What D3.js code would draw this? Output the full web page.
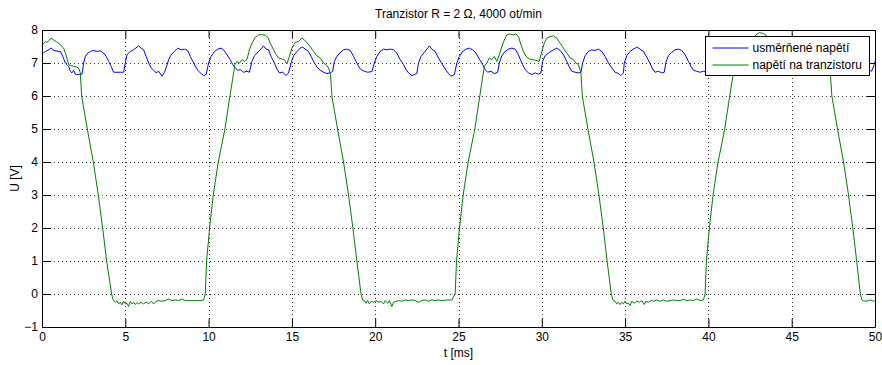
<!DOCTYPE html>
<html>
<head>
<meta charset="utf-8">
<title>Tranzistor R = 2 Ω, 4000 ot/min</title>
<style>
body {
  margin: 0;
  background: #fff;
  font: 12px "Liberation Sans", Arial, sans-serif;
}

svg {
  display: block;
}

.axis text {
  fill: #000;
  font: 12px "Liberation Sans", Arial, sans-serif;
}

.grid line {
  stroke: #000;
  stroke-width: 1px;
  stroke-dasharray: 1,3;
  opacity: 0.8;
}

.series {
  fill: none;
  stroke-width: 1px;
}
</style>
<script src="https://d3js.org/d3.v7.min.js"></script>
</head>
<body>
<script>
const width = 882,
  height = 365,
  margin = {top: 30, right: 7, bottom: 38, left: 42};

const chartTitle = 'Tranzistor R = 2 \u03a9, 4000 ot/min',
  xLabel = 't [ms]',
  yLabel = 'U [V]',
  seriesNames = ['usm\u011br\u0148en\u00e9 nap\u011bt\u00ed', 'nap\u011bt\u00ed na tranzistoru'],
  seriesColors = ['#0000ff', '#008000'];

const xTicks = [0, 5, 10, 15, 20, 25, 30, 35, 40, 45, 50];
const yTicks = [-1, 0, 1, 2, 3, 4, 5, 6, 7, 8];

// usmernene napeti [t ms, U V]
const blueData = [
  [0.0, 7.26], [0.2, 7.35], [0.4, 7.4], [0.55, 7.45], [0.7, 7.38], [0.9, 7.36], [1.1, 7.35], [1.25, 7.2],
  [1.4, 7.0], [1.5, 6.95], [1.6, 6.9], [1.7, 6.75], [1.8, 6.7], [1.9, 6.78], [2.0, 6.66], [2.2, 6.65], [2.4, 6.66],
  [2.5, 7.0], [2.6, 7.2], [2.75, 7.3], [2.9, 7.35], [3.1, 7.38], [3.3, 7.35], [3.5, 7.37], [3.7, 7.3], [3.85, 7.2],
  [4.0, 7.05], [4.15, 6.9], [4.3, 6.72], [4.5, 6.72], [4.7, 6.72], [4.9, 6.72],
  [5.0, 7.0], [5.1, 7.25], [5.3, 7.35], [5.5, 7.4], [5.8, 7.52], [5.95, 7.45], [6.1, 7.4], [6.25, 7.2], [6.4, 7.0],
  [6.55, 6.85], [6.7, 6.78], [6.85, 6.7], [7.0, 6.75], [7.2, 6.6], [7.35, 6.72], [7.45, 6.85],
  [7.6, 7.1], [7.75, 7.25], [7.95, 7.35], [8.15, 7.45], [8.35, 7.4], [8.55, 7.42], [8.75, 7.38], [8.9, 7.2],
  [9.05, 7.05], [9.2, 6.9], [9.35, 6.78], [9.5, 6.7], [9.7, 6.62], [9.85, 6.65],
  [10.0, 7.0], [10.15, 7.2], [10.35, 7.35], [10.55, 7.42], [10.75, 7.45], [10.9, 7.4], [11.1, 7.25], [11.3, 7.1],
  [11.45, 6.95], [11.6, 6.85], [11.75, 6.78], [11.9, 6.8], [12.1, 6.72], [12.3, 6.75], [12.45, 6.72],
  [12.6, 7.05], [12.75, 7.22], [13.0, 7.35], [13.2, 7.45], [13.3, 7.52], [13.45, 7.42], [13.6, 7.4], [13.75, 7.2],
  [13.95, 7.0], [14.1, 6.82], [14.25, 6.7], [14.45, 6.72], [14.65, 6.62], [14.8, 6.7],
  [14.95, 7.0], [15.1, 7.22], [15.3, 7.35], [15.5, 7.45], [15.65, 7.48], [15.8, 7.42], [16.0, 7.35], [16.15, 7.2],
  [16.35, 7.0], [16.5, 6.88], [16.7, 6.78], [16.9, 6.72], [17.1, 6.68], [17.3, 6.7], [17.45, 6.75],
  [17.55, 7.05], [17.7, 7.2], [17.9, 7.32], [18.1, 7.4], [18.3, 7.42], [18.5, 7.38], [18.7, 7.2], [18.85, 7.05],
  [19.0, 6.9], [19.15, 6.8], [19.35, 6.75], [19.55, 6.72], [19.8, 6.74],
  [19.95, 7.0], [20.1, 7.2], [20.3, 7.35], [20.5, 7.42], [20.7, 7.4], [20.9, 7.42], [21.1, 7.4], [21.3, 7.3],
  [21.5, 7.1], [21.7, 6.95], [21.85, 6.8], [22.0, 6.7], [22.2, 6.62], [22.35, 6.65], [22.5, 6.68],
  [22.6, 7.0], [22.75, 7.2], [22.95, 7.32], [23.15, 7.45], [23.25, 7.52], [23.4, 7.42], [23.6, 7.35], [23.8, 7.15],
  [24.0, 6.98], [24.2, 6.82], [24.4, 6.68], [24.55, 6.6], [24.75, 6.65],
  [24.9, 7.0], [25.05, 7.2], [25.25, 7.35], [25.45, 7.42], [25.65, 7.45], [25.85, 7.4], [26.05, 7.3], [26.25, 7.12],
  [26.45, 6.95], [26.6, 6.8], [26.75, 6.72], [26.95, 6.75], [27.15, 6.68], [27.35, 6.72],
  [27.45, 7.0], [27.6, 7.22], [27.8, 7.35], [28.0, 7.42], [28.2, 7.45], [28.4, 7.42], [28.55, 7.3], [28.7, 7.12],
  [28.85, 6.95], [29.0, 6.8], [29.2, 6.7], [29.4, 6.65], [29.6, 6.7], [29.8, 6.66], [29.95, 6.7],
  [30.05, 7.05], [30.2, 7.22], [30.45, 7.32], [30.7, 7.4], [30.9, 7.45], [31.1, 7.38], [31.3, 7.25], [31.5, 7.05],
  [31.65, 6.88], [31.8, 6.75], [32.0, 6.72], [32.2, 6.7], [32.35, 6.72],
  [32.45, 7.0], [32.6, 7.22], [32.8, 7.35], [33.0, 7.4], [33.2, 7.38], [33.4, 7.42], [33.6, 7.35], [33.8, 7.2],
  [34.0, 7.0], [34.2, 6.85], [34.4, 6.72], [34.6, 6.68], [34.75, 6.62], [34.9, 6.7],
  [34.95, 7.0], [35.1, 7.22], [35.3, 7.35], [35.5, 7.42], [35.7, 7.48], [35.9, 7.42], [36.1, 7.35], [36.3, 7.18],
  [36.5, 6.98], [36.65, 6.82], [36.8, 6.72], [37.0, 6.75], [37.2, 6.7], [37.35, 6.72],
  [37.45, 7.02], [37.6, 7.22], [37.8, 7.32], [38.0, 7.4], [38.2, 7.42], [38.4, 7.38], [38.6, 7.25], [38.8, 7.05],
  [38.95, 6.9], [39.1, 6.78], [39.3, 6.75], [39.5, 6.72], [39.7, 6.75], [39.9, 6.72],
  [40.0, 7.0], [40.15, 7.2], [40.35, 7.35], [40.55, 7.42], [40.75, 7.45], [40.95, 7.4], [41.15, 7.28], [41.35, 7.08],
  [41.5, 6.9], [41.7, 6.78], [41.9, 6.72], [42.1, 6.7], [42.3, 6.68],
  [42.5, 7.02], [42.65, 7.22], [42.85, 7.35], [43.05, 7.42], [43.25, 7.45], [43.45, 7.4], [43.65, 7.3], [43.85, 7.1],
  [44.0, 6.92], [44.2, 6.78], [44.4, 6.7], [44.6, 6.68], [44.85, 6.7],
  [45.0, 7.0], [45.15, 7.2], [45.35, 7.35], [45.55, 7.42], [45.75, 7.45], [45.95, 7.4], [46.15, 7.3], [46.35, 7.1],
  [46.5, 6.92], [46.7, 6.78], [46.9, 6.72], [47.1, 6.7], [47.35, 6.68],
  [47.5, 7.02], [47.65, 7.2], [47.85, 7.35], [48.05, 7.42], [48.25, 7.45], [48.45, 7.4], [48.65, 7.28], [48.85, 7.08],
  [49.0, 6.9], [49.2, 6.8], [49.4, 6.78], [49.6, 6.8], [49.8, 6.75], [49.95, 6.95], [50.0, 7.05]
];

// napeti na tranzistoru [t ms, U V]
const greenData = [
  [0.0, 7.52], [0.1, 7.6], [0.2, 7.65], [0.3, 7.62], [0.4, 7.68], [0.55, 7.75], [0.7, 7.7], [0.85, 7.65],
  [1.0, 7.6], [1.15, 7.52], [1.3, 7.45], [1.4, 7.3], [1.5, 7.15], [1.6, 6.95], [1.75, 6.92], [1.9, 6.9],
  [2.05, 6.88], [2.2, 6.85], [2.3, 6.7],
  [2.38, 6.0], [2.72, 5.0], [3.08, 4.0], [3.38, 3.0], [3.64, 2.0], [3.88, 1.0], [4.18, 0.0], [4.27, -0.18],
  [4.4, -0.25], [4.5, -0.2], [4.6, -0.3], [4.7, -0.25], [4.8, -0.33], [4.9, -0.22], [5.0, -0.3], [5.1, -0.28],
  [5.2, -0.38], [5.3, -0.22], [5.4, -0.3], [5.5, -0.25], [5.6, -0.32], [5.7, -0.26], [5.8, -0.3], [5.95, -0.25],
  [6.1, -0.3], [6.25, -0.24], [6.4, -0.3], [6.55, -0.22], [6.7, -0.3], [6.85, -0.22], [7.0, -0.2], [7.2, -0.22],
  [7.4, -0.2], [7.6, -0.15], [7.8, -0.2], [8.0, -0.18], [8.2, -0.2], [8.4, -0.15], [8.6, -0.2], [8.9, -0.2],
  [9.2, -0.2], [9.5, -0.2], [9.7, -0.18],
  [9.8, 0.0], [9.88, 1.0], [10.06, 2.0], [10.28, 3.0], [10.58, 4.0], [10.98, 5.0], [11.28, 6.0], [11.58, 6.95],
  [11.7, 7.05], [11.85, 7.0], [12.0, 7.1], [12.15, 7.05], [12.3, 7.1], [12.45, 7.4], [12.6, 7.6], [12.8, 7.78],
  [13.0, 7.85], [13.2, 7.86], [13.4, 7.84], [13.55, 7.78], [13.7, 7.6], [13.85, 7.45], [14.0, 7.3], [14.2, 7.15],
  [14.4, 7.12], [14.55, 7.1], [14.7, 6.97], [14.85, 7.2], [15.0, 7.45], [15.2, 7.62], [15.4, 7.65], [15.6, 7.76],
  [15.75, 7.7], [15.9, 7.62], [16.1, 7.5], [16.3, 7.35], [16.5, 7.22], [16.7, 7.15], [16.9, 7.0], [17.05, 6.95],
  [17.2, 6.85], [17.32, 6.65],
  [17.4, 6.0], [17.74, 5.0], [18.1, 4.0], [18.4, 3.0], [18.66, 2.0], [18.9, 1.0], [19.15, 0.0], [19.25, -0.18],
  [19.35, -0.2], [19.45, -0.28], [19.55, -0.2], [19.65, -0.3], [19.75, -0.22], [19.9, -0.25], [20.05, -0.2],
  [20.2, -0.25], [20.35, -0.22], [20.5, -0.3], [20.6, -0.2], [20.75, -0.28], [20.85, -0.2], [21.0, -0.38],
  [21.1, -0.25], [21.25, -0.22], [21.4, -0.2], [21.6, -0.22], [21.8, -0.18], [22.0, -0.2], [22.2, -0.18],
  [22.4, -0.2], [22.6, -0.25], [22.8, -0.2], [23.0, -0.18], [23.2, -0.22], [23.4, -0.18], [23.6, -0.2],
  [23.8, -0.18], [24.0, -0.2], [24.3, -0.18], [24.6, -0.18],
  [24.8, 0.0], [24.88, 1.0], [25.06, 2.0], [25.28, 3.0], [25.58, 4.0], [25.98, 5.0], [26.28, 6.0], [26.55, 6.9],
  [26.7, 7.0], [26.85, 7.15], [27.0, 7.1], [27.15, 7.2], [27.3, 7.05], [27.45, 7.25], [27.6, 7.5], [27.75, 7.7],
  [27.9, 7.85], [28.1, 7.88], [28.3, 7.85], [28.45, 7.88], [28.6, 7.8], [28.75, 7.55], [28.9, 7.35], [29.05, 7.2],
  [29.25, 7.12], [29.45, 7.1], [29.65, 7.08], [29.85, 7.05], [30.0, 7.35], [30.15, 7.6], [30.3, 7.75], [30.5, 7.8],
  [30.7, 7.82], [30.9, 7.75], [31.1, 7.6], [31.3, 7.45], [31.5, 7.3], [31.7, 7.15], [31.9, 7.1], [32.05, 7.0],
  [32.2, 6.95], [32.35, 6.7],
  [32.43, 6.0], [32.77, 5.0], [33.13, 4.0], [33.43, 3.0], [33.69, 2.0], [33.92, 1.0], [34.17, 0.0], [34.27, -0.18],
  [34.4, -0.22], [34.5, -0.3], [34.6, -0.25], [34.7, -0.32], [34.8, -0.25], [34.9, -0.3], [35.0, -0.22],
  [35.1, -0.3], [35.2, -0.28], [35.3, -0.35], [35.4, -0.22], [35.55, -0.28], [35.7, -0.22], [35.85, -0.25],
  [36.0, -0.2], [36.15, -0.32], [36.25, -0.22], [36.4, -0.25], [36.55, -0.2], [36.7, -0.22], [36.9, -0.18],
  [37.1, -0.22], [37.3, -0.18], [37.5, -0.22], [37.7, -0.2], [37.9, -0.18], [38.1, -0.2], [38.3, -0.2],
  [38.5, -0.16], [38.7, -0.2], [38.9, -0.18], [39.1, -0.2], [39.3, -0.15], [39.5, -0.2], [39.7, -0.18],
  [39.8, 0.0], [39.88, 1.0], [40.06, 2.0], [40.28, 3.0], [40.58, 4.0], [40.98, 5.0], [41.28, 6.0], [41.58, 6.95],
  [41.7, 7.05], [41.85, 7.0], [42.0, 7.1], [42.2, 7.05], [42.35, 7.15], [42.5, 7.45], [42.65, 7.65], [42.85, 7.85],
  [43.05, 7.92], [43.25, 7.9], [43.45, 7.85], [43.6, 7.7], [43.8, 7.5], [44.0, 7.3], [44.2, 7.15], [44.4, 7.1],
  [44.6, 7.08], [44.8, 7.05], [44.95, 7.3], [45.1, 7.55], [45.3, 7.7], [45.5, 7.75], [45.7, 7.78], [45.9, 7.7],
  [46.1, 7.55], [46.3, 7.4], [46.5, 7.25], [46.7, 7.15], [46.9, 7.05], [47.1, 6.95], [47.25, 6.8], [47.33, 6.6],
  [47.41, 6.0], [47.75, 5.0], [48.11, 4.0], [48.41, 3.0], [48.67, 2.0], [48.9, 1.0], [49.12, 0.0], [49.22, -0.18],
  [49.3, -0.2], [49.45, -0.22], [49.6, -0.2], [49.75, -0.18], [49.9, -0.22], [50.0, -0.2]
];

const series = [blueData, greenData];

const innerW = width - margin.left - margin.right,
  innerH = height - margin.top - margin.bottom;

let svg = d3.select('body').append('svg')
  .attr('width', width)
  .attr('height', height);

let g = svg.append('g')
  .attr('transform', 'translate(' + margin.left + ',' + margin.top + ')');

let x = d3.scaleLinear()
  .domain([0, 50])
  .range([0, innerW]);

let y = d3.scaleLinear()
  .domain([-1, 8])
  .range([innerH, 0]);

g.append('rect')
  .attr('width', innerW)
  .attr('height', innerH)
  .attr('fill', '#fff');

// dotted grid
let grid = g.append('g').attr('class', 'grid');

grid.selectAll('line.gx')
  .data(xTicks.slice(1, -1))
  .enter().append('line')
    .attr('class', 'gx')
    .attr('x1', d => Math.round(x(d)) + 0.5)
    .attr('x2', d => Math.round(x(d)) + 0.5)
    .attr('y1', 0)
    .attr('y2', innerH);

grid.selectAll('line.gy')
  .data(yTicks.slice(1, -1))
  .enter().append('line')
    .attr('class', 'gy')
    .attr('y1', d => Math.round(y(d)) + 0.5)
    .attr('y2', d => Math.round(y(d)) + 0.5)
    .attr('x1', 0)
    .attr('x2', innerW);

// data lines
let line = d3.line()
  .x(d => x(d[0]))
  .y(d => y(d[1]));

g.selectAll('path.series')
  .data(series)
  .enter().append('path')
    .attr('class', 'series')
    .attr('stroke', (d, i) => seriesColors[i])
    .attr('d', line);

// axes, ticks inside on all four sides
const tickLen = 8;

let xAxis = g.append('g')
  .attr('class', 'axis')
  .attr('transform', 'translate(0,' + innerH + ')')
  .call(d3.axisBottom(x).tickValues(xTicks).tickSizeInner(-tickLen).tickSizeOuter(0).tickPadding(5));

let xAxisTop = g.append('g')
  .attr('class', 'axis')
  .call(d3.axisTop(x).tickValues(xTicks).tickSizeInner(-tickLen).tickSizeOuter(0).tickFormat(''));

let yAxis = g.append('g')
  .attr('class', 'axis')
  .call(d3.axisLeft(y).tickValues(yTicks).tickSizeInner(-tickLen).tickSizeOuter(0).tickPadding(4));

let yAxisRight = g.append('g')
  .attr('class', 'axis')
  .attr('transform', 'translate(' + innerW + ',0)')
  .call(d3.axisRight(y).tickValues(yTicks).tickSizeInner(-tickLen).tickSizeOuter(0).tickFormat(''));

g.selectAll('.axis path.domain').attr('stroke', '#000');
g.selectAll('.axis .tick line').attr('stroke', '#000');

// title and axis labels
svg.append('text')
  .attr('x', margin.left + innerW / 2)
  .attr('y', 18)
  .attr('text-anchor', 'middle')
  .style('font-size', '12px')
  .text(chartTitle);

svg.append('text')
  .attr('x', margin.left + innerW / 2)
  .attr('y', 357)
  .attr('text-anchor', 'middle')
  .style('font-size', '12px')
  .text(xLabel);

svg.append('text')
  .attr('transform', 'translate(19,' + (margin.top + innerH / 2) + ') rotate(-90)')
  .attr('text-anchor', 'middle')
  .style('font-size', '12px')
  .text(yLabel);

// legend
let legend = svg.append('g')
  .attr('transform', 'translate(705.5,36.5)');

legend.append('rect')
  .attr('width', 164)
  .attr('height', 39)
  .attr('fill', '#fff')
  .attr('stroke', '#000');

let items = legend.selectAll('g.item')
  .data(seriesNames)
  .enter().append('g')
    .attr('class', 'item')
    .attr('transform', (d, i) => 'translate(0,' + (11.5 + i * 17) + ')');

items.append('line')
  .attr('x1', 7)
  .attr('x2', 43)
  .attr('stroke', (d, i) => seriesColors[i]);

items.append('text')
  .attr('x', 47)
  .attr('y', 4)
  .style('font-size', '12px')
  .text(d => d);
</script>
</body>
</html>
